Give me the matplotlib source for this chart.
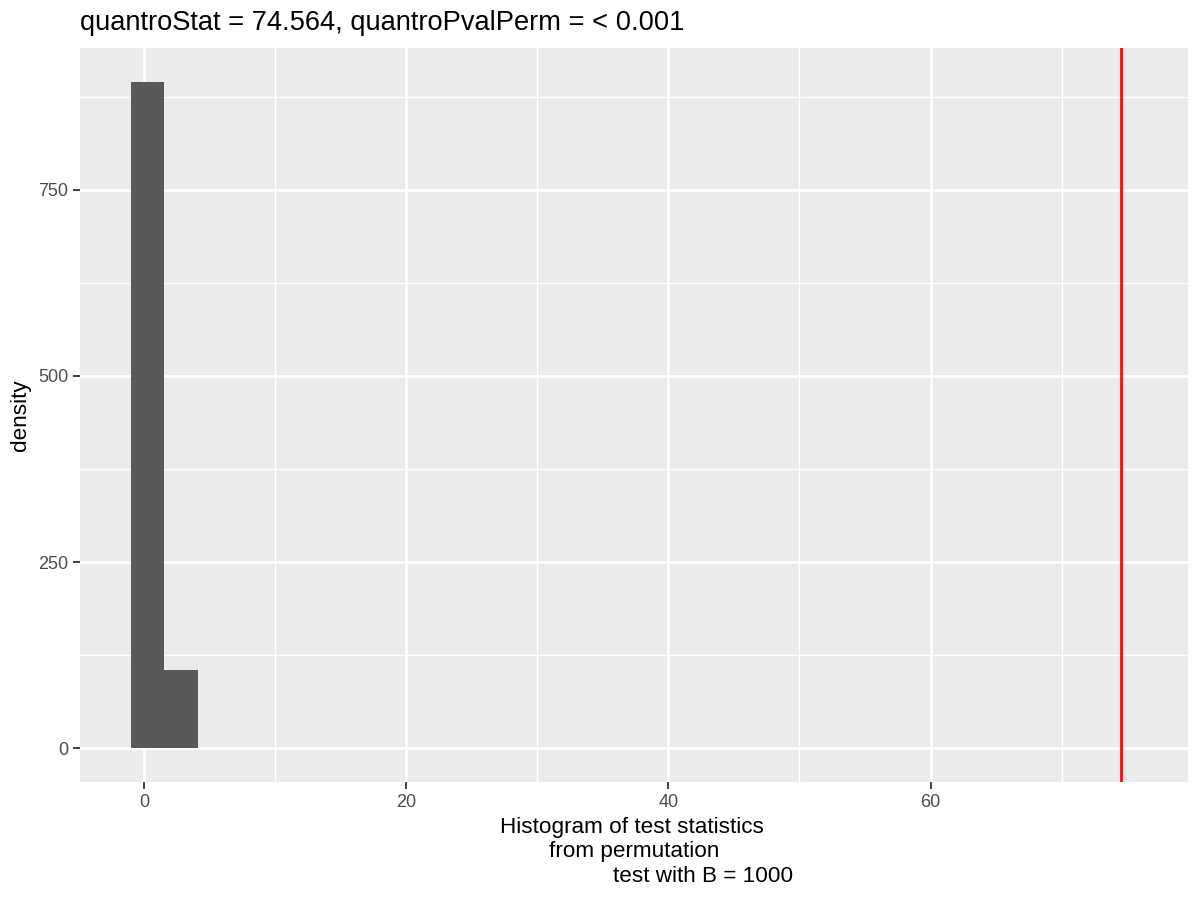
import matplotlib
matplotlib.use("Agg")
import matplotlib.pyplot as plt
import numpy as np

# Data
bin_edges = [-1.03, 1.53, 4.09]
bin_heights = [895, 105]
observed_stat = 74.564
title_text = "quantroStat = 74.564, quantroPvalPerm = < 0.001"
xlabel_lines = ["Histogram of test statistics", "from permutation", "test with B = 1000"]
ylabel_text = "density"
x_major = [0, 20, 40, 60]
x_minor = [10, 30, 50, 70]
y_major = [0, 250, 500, 750]
y_minor = [125, 375, 625, 875]

plt.rcParams['font.family'] = ['Liberation Sans', 'DejaVu Sans']

W, H = 1200, 900
fig = plt.figure(figsize=(12, 9), dpi=100)
pl, pr, pt, pb = 80.3, 1188.3, 48.3, 781.7
ax = fig.add_axes([pl / W, 1 - pb / H, (pr - pl) / W, (pb - pt) / H])
ax.set_facecolor('#EBEBEB')

# grid
for v in x_minor:
    ax.axvline(v, color='white', lw=0.95, zorder=0)
for v in y_minor:
    ax.axhline(v, color='white', lw=0.95, zorder=0)
for v in x_major:
    ax.axvline(v, color='white', lw=1.9, zorder=0)
for v in y_major:
    ax.axhline(v, color='white', lw=1.9, zorder=0)

lefts = np.array(bin_edges[:-1])
widths = np.diff(bin_edges)
ax.bar(lefts, bin_heights, width=widths, align='edge', color='#595959',
       edgecolor='none', zorder=2)
ax.axvline(observed_stat, color='#FF0000', lw=1.9, zorder=3)

ax.set_xlim(-4.87, 79.67)
ax.set_ylim(-44.75, 939.75)
ax.set_xticks(x_major)
ax.set_yticks(y_major)
ax.set_xticklabels([str(v) for v in x_major])
ax.set_yticklabels([str(v) for v in y_major])
ax.tick_params(axis='both', length=5, width=1.3, color='#333333',
               labelsize=13, labelcolor='#4D4D4D', pad=3.5)
for s in ax.spines.values():
    s.set_visible(False)

# title
fig.text(pl / W, 1 - 30.5 / H, title_text, fontsize=19.65, ha='left',
         va='baseline', color='black')
# y label
fig.text(20 / W, 1 - (pt + pb) / 2 / H, ylabel_text, fontsize=16.2,
         rotation=90, ha='center', va='center', color='black')
# x label lines
xcenters = [632, 634.5, 703]
ybases = [832.7, 857, 881.7]
for line, xc, yb in zip(xlabel_lines, xcenters, ybases):
    fig.text(xc / W, 1 - yb / H, line, fontsize=16.2, ha='center',
             va='baseline', color='black')

fig.savefig('out.png', dpi=100, facecolor='white')
